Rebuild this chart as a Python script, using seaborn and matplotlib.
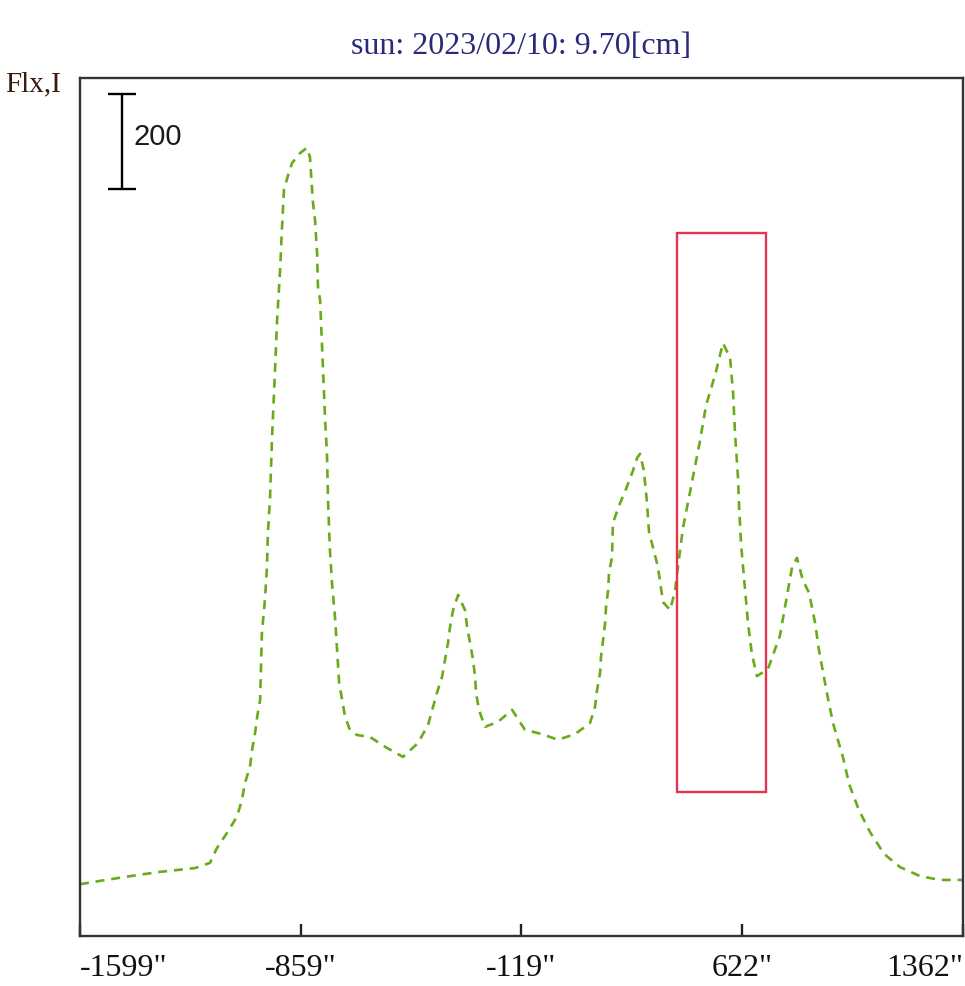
import matplotlib
matplotlib.use("Agg")
import matplotlib.pyplot as plt
import seaborn as sns
import pandas as pd
from matplotlib.patches import Rectangle

# ---- data ----
position = [-1599, -1532, -1431, -1331, -1213, -1163, -1140, -1106, -1073, -1056,
            -1046, -1029, -1022, -1012, -1005, -995, -992, -989, -979, -972,
            -969, -962, -955, -945, -938, -928, -922, -915, -901, -888,
            -861, -838, -828, -818, -811, -804, -801, -794, -791, -784,
            -777, -771, -767, -761, -754, -744, -737, -730, -720, -710,
            -694, -670, -627, -570, -516, -466, -432, -402, -385, -375,
            -365, -358, -348, -331, -308, -301, -291, -281, -274, -271,
            -261, -241, -197, -150, -107, -50, 4, 61, 111, 128,
            135, 145, 148, 155, 162, 165, 172, 175, 185, 188,
            208, 232, 255, 269, 279, 292, 302, 309, 339, 356,
            380, 396, 410, 423, 440, 457, 480, 500, 517, 534,
            557, 581, 591, 598, 608, 611, 618, 631, 641, 654,
            671, 708, 748, 768, 789, 805, 825, 846, 866, 879,
            903, 926, 960, 980, 1013, 1050, 1097, 1151, 1218, 1285, 1362]
flux = [109, 116, 126, 135, 143, 154, 185, 217, 251, 286,
        322, 356, 392, 427, 461, 497, 566, 638, 707, 777,
        848, 918, 1050, 1192, 1297, 1402, 1486, 1571, 1602, 1627,
        1648, 1659, 1640, 1545, 1507, 1438, 1366, 1339, 1297, 1192,
        1086, 1017, 912, 813, 743, 672, 602, 533, 497, 461,
        434, 423, 419, 396, 377, 406, 444, 512, 545, 581,
        617, 651, 686, 718, 686, 651, 617, 581, 545, 512,
        476, 440, 451, 476, 434, 425, 413, 425, 448, 482,
        518, 554, 587, 623, 659, 693, 728, 764, 798, 869,
        905, 941, 979, 1006, 1015, 979, 914, 851, 777, 703,
        686, 726, 796, 859, 914, 968, 1042, 1116, 1152, 1189,
        1248, 1217, 1143, 1053, 960, 905, 823, 731, 659, 594,
        547, 562, 632, 703, 777, 796, 749, 722, 659, 602,
        520, 448, 375, 320, 265, 219, 173, 145, 126, 118, 118]

tick_values = [-1599, -859, -119, 622, 1362]
tick_labels = ['-1599"', '-859"', '-119"', '622"', '1362"']

title_text = "sun: 2023/02/10: 9.70[cm]"
ylabel_text = "Flx,I"
scale_bar_value = 200
scale_bar_base = 1573
scale_bar_x = -1458

box_x = [403, 701]
box_y = [303, 1480]

x_range = [-1599, 1362]
y_range = [0, 1806]

df = pd.DataFrame({"position": position, "flux": flux})

# ---- figure ----
sns.set_style("white")
W, H = 965, 986
fig = plt.figure(figsize=(W / 100, H / 100), dpi=100)
ax = fig.add_axes([80 / W, 1 - 936 / H, (963 - 80) / W, (936 - 78) / H])

sns.lineplot(data=df, x="position", y="flux", ax=ax, color="#6aaa1a",
             linewidth=1.9, sort=False, estimator=None)
line = ax.lines[0]
line.set_dashes([3.4, 2.6])

ax.set_xlim(*x_range)
ax.set_ylim(*y_range)

# red box
ax.add_patch(Rectangle((box_x[0], box_y[0]), box_x[1] - box_x[0], box_y[1] - box_y[0],
                       fill=False, edgecolor="#e6334f", linewidth=1.7, zorder=3))

# scale bar
cap = 47
ax.plot([scale_bar_x, scale_bar_x], [scale_bar_base, scale_bar_base + scale_bar_value],
        color="black", linewidth=1.7, solid_capstyle="butt")
for yy in (scale_bar_base, scale_bar_base + scale_bar_value):
    ax.plot([scale_bar_x - cap, scale_bar_x + cap], [yy, yy], color="black",
            linewidth=1.7, solid_capstyle="butt")
ax.text(-1421, scale_bar_base + scale_bar_value / 2 + 8, str(scale_bar_value),
        ha="left", va="center", fontsize=21, family="Liberation Sans", color="#1a1a1a")

# spines / ticks
for s in ax.spines.values():
    s.set_visible(True)
    s.set_color("#333333")
    s.set_linewidth(1.7)
ax.set_yticks([])
ax.set_xticks(tick_values)
ax.set_xticklabels(tick_labels, family="Liberation Serif", fontsize=23, color="#111111")
ax.tick_params(axis="x", direction="in", length=9, width=1.7, color="#222222", pad=13,
               bottom=True)
labels = ax.get_xticklabels()
labels[0].set_ha("left")
labels[-1].set_ha("right")
ax.set_xlabel("")
ax.set_ylabel("")

fig.text(521 / W, 1 - 46 / H, title_text, ha="center", va="center",
         family="Liberation Serif", fontsize=23, color="#2a2a78")
fig.text(5 / W, 1 - 84 / H, ylabel_text, ha="left", va="center",
         family="Liberation Serif", fontsize=21, color="#3a1a0a")

fig.savefig("out.png", dpi=100)
